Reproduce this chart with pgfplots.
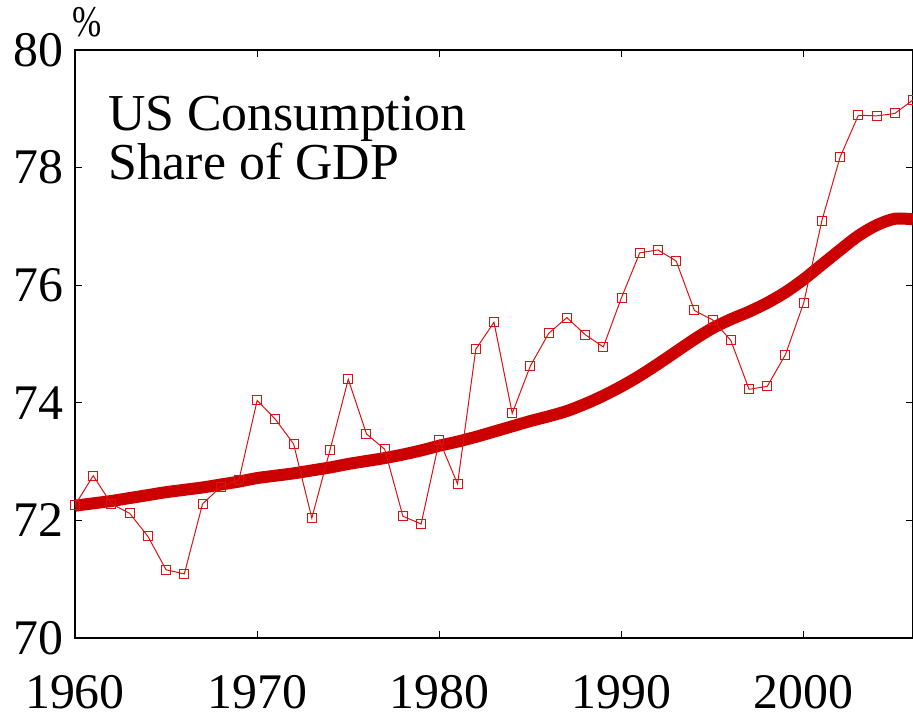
\documentclass[border=0pt]{standalone}
\usepackage{pgfplots}
\pgfplotsset{compat=1.18}
\usepackage{fontspec}
\setmainfont{Liberation Serif}
\definecolor{trendred}{HTML}{CC0000}
\definecolor{linered}{HTML}{DD1111}

\pgfplotstableread{
year share
1960 72.26
1961 72.76
1962 72.28
1963 72.12
1964 71.73
1965 71.16
1966 71.09
1967 72.28
1968 72.57
1969 72.69
1970 74.04
1971 73.72
1972 73.30
1973 72.04
1974 73.20
1975 74.40
1976 73.47
1977 73.21
1978 72.07
1979 71.94
1980 73.36
1981 72.62
1982 74.91
1983 75.37
1984 73.82
1985 74.63
1986 75.18
1987 75.45
1988 75.16
1989 74.95
1990 75.79
1991 76.55
1992 76.60
1993 76.41
1994 75.57
1995 75.41
1996 75.06
1997 74.23
1998 74.28
1999 74.82
2000 75.70
2001 77.10
2002 78.18
2003 78.89
2004 78.88
2005 78.92
2006 79.15
}\sharedata

\pgfplotstableread{
year trend
1960 72.25
1961 72.29
1962 72.33
1963 72.38
1964 72.43
1965 72.48
1966 72.52
1967 72.56
1968 72.61
1969 72.66
1970 72.72
1971 72.76
1972 72.80
1973 72.85
1974 72.90
1975 72.96
1976 73.01
1977 73.06
1978 73.12
1979 73.19
1980 73.27
1981 73.34
1982 73.42
1983 73.51
1984 73.60
1985 73.69
1986 73.77
1987 73.86
1988 73.98
1989 74.12
1990 74.28
1991 74.46
1992 74.66
1993 74.87
1994 75.08
1995 75.27
1996 75.42
1997 75.55
1998 75.70
1999 75.88
2000 76.10
2001 76.35
2002 76.60
2003 76.84
2004 77.02
2005 77.13
2006 77.12
}\trenddata

\begin{document}
\begin{tikzpicture}
\begin{axis}[
    scale only axis,
    width=838bp, height=588bp,
    xmin=1960, xmax=2006,
    ymin=70, ymax=80,
    xtick={1960,1970,1980,1990,2000},
    ytick={70,72,74,76,78,80},
    tick align=inside,
    major tick length=7bp,
    axis line style={line width=1.2bp},
    tick style={line width=1.2bp, black},
    /pgf/number format/assume math mode=true,
    /pgf/number format/1000 sep={},
    ticklabel style={font=\fontsize{50}{50}\selectfont, inner sep=0pt},
    xticklabel style={anchor=north, yshift=-37bp},
    yticklabel style={anchor=east, xshift=-11bp},
    clip=true,
]
\addplot[trendred, line width=12bp, smooth] table[x=year, y=trend] {\trenddata};
\addplot[linered, line width=1bp, mark=square, mark size=4.5bp,
    mark options={line width=1bp, solid}] table[x=year, y=share] {\sharedata};
\coordinate (sw) at (rel axis cs:0,0);
\coordinate (ne) at (rel axis cs:1,1);
\end{axis}
\node[anchor=south west, inner sep=0pt, xscale=0.8, font=\fontsize{44}{44}\selectfont]
    at ([xshift=-3bp, yshift=13bp]sw |- ne) {\%};
\node[anchor=north west, inner sep=0pt, align=left,
    font=\fontsize{52}{49}\selectfont]
    at ([xshift=33bp, yshift=-46bp]sw |- ne) {US Consumption\\Share of GDP};
\pgfresetboundingbox
\path ([xshift=-75bp, yshift=-84bp]sw) rectangle ([yshift=50bp]ne);
\end{tikzpicture}
\end{document}
